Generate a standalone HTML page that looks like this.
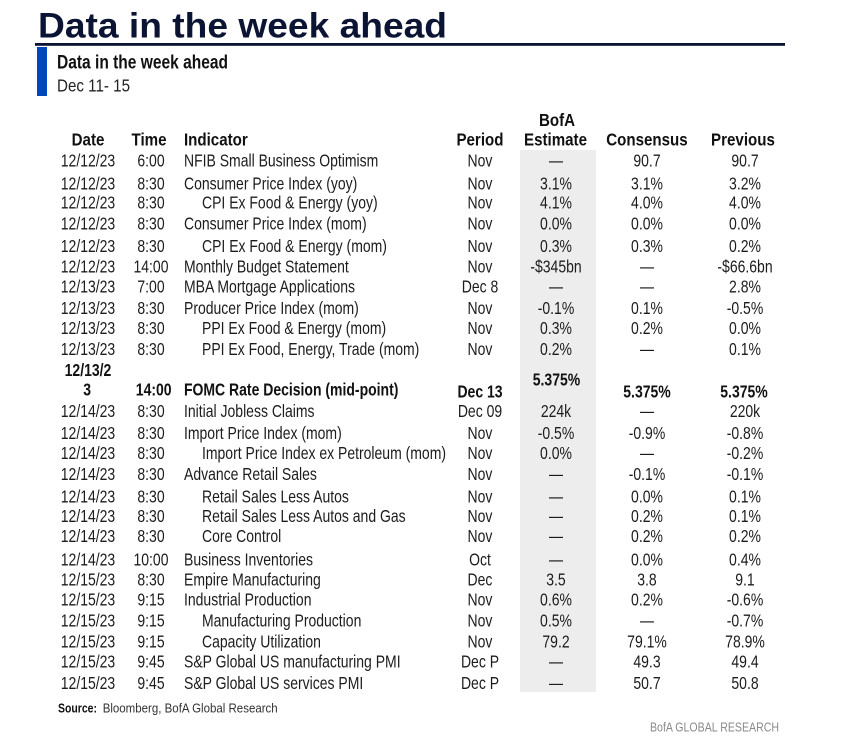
<!DOCTYPE html>
<html>
<head>
<meta charset="utf-8">
<style>
html,body{margin:0;padding:0;background:#fff;}
svg{display:block;}
text{font-family:"Liberation Sans",Arial,sans-serif;fill:#1c1c1c;}
.d text{font-size:17.5px;}
.c{text-anchor:middle;}
.b{font-weight:bold;fill:#111;}
.h text{font-size:18px;font-weight:bold;fill:#111;text-anchor:middle;}
</style>
</head>
<body>
<svg width="848" height="752" viewBox="0 0 848 752" xmlns="http://www.w3.org/2000/svg">
<rect x="0" y="0" width="848" height="752" fill="#fff"/>
<!-- Title -->
<text x="38" y="37.5" font-size="35" font-weight="bold" style="fill:#0c1434" textLength="409" lengthAdjust="spacingAndGlyphs">Data in the week ahead</text>
<rect x="35" y="43" width="750" height="2.8" fill="#0c1434"/>
<!-- Blue bar + subtitle -->
<rect x="37" y="47" width="10" height="49" fill="#0047bb"/>
<text x="57" y="68.3" font-size="19" font-weight="bold" style="fill:#111" textLength="171" lengthAdjust="spacingAndGlyphs">Data in the week ahead</text>
<text x="57" y="91.7" font-size="17.5" style="fill:#222" textLength="73" lengthAdjust="spacingAndGlyphs">Dec 11- 15</text>
<!-- Grey shading -->
<rect x="520" y="150" width="76" height="542" fill="#ededed"/>
<!-- Header -->
<g class="h" transform="scale(0.84,1)">
<text x="663.1" y="126">BofA</text>
<text x="104.8" y="145.7">Date</text>
<text x="177.4" y="145.7">Time</text>
<text x="219" y="145.7" style="text-anchor:start">Indicator</text>
<text x="571.4" y="145.7">Period</text>
<text x="661.3" y="145.7">Estimate</text>
<text x="770.2" y="145.7">Consensus</text>
<text x="884.5" y="145.7">Previous</text>
</g>
<!-- Data -->
<g class="d" transform="scale(0.8,1)">
<!-- 1 -->
<text class="c" x="110" y="166.3">12/12/23</text><text class="c" x="188.75" y="166.3">6:00</text><text x="230" y="166.3">NFIB Small Business Optimism</text><text class="c" x="600" y="166.3">Nov</text><text class="c" x="695" y="166.3">—</text><text class="c" x="808.75" y="166.3">90.7</text><text class="c" x="931.25" y="166.3">90.7</text>
<!-- 2 -->
<text class="c" x="110" y="189.3">12/12/23</text><text class="c" x="188.75" y="189.3">8:30</text><text x="230" y="189.3">Consumer Price Index (yoy)</text><text class="c" x="600" y="189.3">Nov</text><text class="c" x="695" y="189.3">3.1%</text><text class="c" x="808.75" y="189.3">3.1%</text><text class="c" x="931.25" y="189.3">3.2%</text>
<!-- 3 -->
<text class="c" x="110" y="208.3">12/12/23</text><text class="c" x="188.75" y="208.3">8:30</text><text x="252.5" y="208.3">CPI Ex Food &amp; Energy (yoy)</text><text class="c" x="600" y="208.3">Nov</text><text class="c" x="695" y="208.3">4.1%</text><text class="c" x="808.75" y="208.3">4.0%</text><text class="c" x="931.25" y="208.3">4.0%</text>
<!-- 4 -->
<text class="c" x="110" y="229.3">12/12/23</text><text class="c" x="188.75" y="229.3">8:30</text><text x="230" y="229.3">Consumer Price Index (mom)</text><text class="c" x="600" y="229.3">Nov</text><text class="c" x="695" y="229.3">0.0%</text><text class="c" x="808.75" y="229.3">0.0%</text><text class="c" x="931.25" y="229.3">0.0%</text>
<!-- 5 -->
<text class="c" x="110" y="251.8">12/12/23</text><text class="c" x="188.75" y="251.8">8:30</text><text x="252.5" y="251.8">CPI Ex Food &amp; Energy (mom)</text><text class="c" x="600" y="251.8">Nov</text><text class="c" x="695" y="251.8">0.3%</text><text class="c" x="808.75" y="251.8">0.3%</text><text class="c" x="931.25" y="251.8">0.2%</text>
<!-- 6 -->
<text class="c" x="110" y="272.3">12/12/23</text><text class="c" x="188.75" y="272.3">14:00</text><text x="230" y="272.3">Monthly Budget Statement</text><text class="c" x="600" y="272.3">Nov</text><text class="c" x="695" y="272.3">-$345bn</text><text class="c" x="808.75" y="272.3">—</text><text class="c" x="931.25" y="272.3">-$66.6bn</text>
<!-- 7 -->
<text class="c" x="110" y="292.3">12/13/23</text><text class="c" x="188.75" y="292.3">7:00</text><text x="230" y="292.3">MBA Mortgage Applications</text><text class="c" x="600" y="292.3">Dec 8</text><text class="c" x="695" y="292.3">—</text><text class="c" x="808.75" y="292.3">—</text><text class="c" x="931.25" y="292.3">2.8%</text>
<!-- 8 -->
<text class="c" x="110" y="313.8">12/13/23</text><text class="c" x="188.75" y="313.8">8:30</text><text x="230" y="313.8">Producer Price Index (mom)</text><text class="c" x="600" y="313.8">Nov</text><text class="c" x="695" y="313.8">-0.1%</text><text class="c" x="808.75" y="313.8">0.1%</text><text class="c" x="931.25" y="313.8">-0.5%</text>
<!-- 9 -->
<text class="c" x="110" y="333.8">12/13/23</text><text class="c" x="188.75" y="333.8">8:30</text><text x="252.5" y="333.8">PPI Ex Food &amp; Energy (mom)</text><text class="c" x="600" y="333.8">Nov</text><text class="c" x="695" y="333.8">0.3%</text><text class="c" x="808.75" y="333.8">0.2%</text><text class="c" x="931.25" y="333.8">0.0%</text>
<!-- 10 -->
<text class="c" x="110" y="354.8">12/13/23</text><text class="c" x="188.75" y="354.8">8:30</text><text x="252.5" y="354.8">PPI Ex Food, Energy, Trade (mom)</text><text class="c" x="600" y="354.8">Nov</text><text class="c" x="695" y="354.8">0.2%</text><text class="c" x="808.75" y="354.8">—</text><text class="c" x="931.25" y="354.8">0.1%</text>
<!-- 11 FOMC -->
<text class="c b" x="110" y="375.8" font-size="18.5">12/13/2</text>
<text class="c b" x="109" y="395.3" font-size="18.5">3</text>
<text class="c b" x="192.1" y="395.3">14:00</text>
<text class="b" x="230" y="395.3">FOMC Rate Decision (mid-point)</text>
<text class="c b" x="600" y="397.3">Dec 13</text>
<text class="c b" x="695.6" y="385.3">5.375%</text>
<text class="c b" x="808.75" y="397.3">5.375%</text>
<text class="c b" x="930" y="397.3">5.375%</text>
<!-- 12 -->
<text class="c" x="110" y="416.8">12/14/23</text><text class="c" x="188.75" y="416.8">8:30</text><text x="230" y="416.8">Initial  Jobless Claims</text><text class="c" x="600" y="416.8">Dec 09</text><text class="c" x="695" y="416.8">224k</text><text class="c" x="808.75" y="416.8">—</text><text class="c" x="931.25" y="416.8">220k</text>
<!-- 13 -->
<text class="c" x="110" y="438.8">12/14/23</text><text class="c" x="188.75" y="438.8">8:30</text><text x="230" y="438.8">Import Price Index (mom)</text><text class="c" x="600" y="438.8">Nov</text><text class="c" x="695" y="438.8">-0.5%</text><text class="c" x="808.75" y="438.8">-0.9%</text><text class="c" x="931.25" y="438.8">-0.8%</text>
<!-- 14 -->
<text class="c" x="110" y="458.8">12/14/23</text><text class="c" x="188.75" y="458.8">8:30</text><text x="252.5" y="458.8">Import Price Index ex Petroleum (mom)</text><text class="c" x="600" y="458.8">Nov</text><text class="c" x="695" y="458.8">0.0%</text><text class="c" x="808.75" y="458.8">—</text><text class="c" x="931.25" y="458.8">-0.2%</text>
<!-- 15 -->
<text class="c" x="110" y="479.9">12/14/23</text><text class="c" x="188.75" y="479.9">8:30</text><text x="230" y="479.9">Advance Retail Sales</text><text class="c" x="600" y="479.9">Nov</text><text class="c" x="695" y="479.9">—</text><text class="c" x="808.75" y="479.9">-0.1%</text><text class="c" x="931.25" y="479.9">-0.1%</text>
<!-- 16 -->
<text class="c" x="110" y="502.3">12/14/23</text><text class="c" x="188.75" y="502.3">8:30</text><text x="252.5" y="502.3">Retail Sales Less Autos</text><text class="c" x="600" y="502.3">Nov</text><text class="c" x="695" y="502.3">—</text><text class="c" x="808.75" y="502.3">0.0%</text><text class="c" x="931.25" y="502.3">0.1%</text>
<!-- 17 -->
<text class="c" x="110" y="521.9">12/14/23</text><text class="c" x="188.75" y="521.9">8:30</text><text x="252.5" y="521.9">Retail Sales Less Autos and Gas</text><text class="c" x="600" y="521.9">Nov</text><text class="c" x="695" y="521.9">—</text><text class="c" x="808.75" y="521.9">0.2%</text><text class="c" x="931.25" y="521.9">0.1%</text>
<!-- 18 -->
<text class="c" x="110" y="541.9">12/14/23</text><text class="c" x="188.75" y="541.9">8:30</text><text x="252.5" y="541.9">Core Control</text><text class="c" x="600" y="541.9">Nov</text><text class="c" x="695" y="541.9">—</text><text class="c" x="808.75" y="541.9">0.2%</text><text class="c" x="931.25" y="541.9">0.2%</text>
<!-- 19 -->
<text class="c" x="110" y="565.3">12/14/23</text><text class="c" x="188.75" y="565.3">10:00</text><text x="230" y="565.3">Business Inventories</text><text class="c" x="600" y="565.3">Oct</text><text class="c" x="695" y="565.3">—</text><text class="c" x="808.75" y="565.3">0.0%</text><text class="c" x="931.25" y="565.3">0.4%</text>
<!-- 20 -->
<text class="c" x="110" y="585.3">12/15/23</text><text class="c" x="188.75" y="585.3">8:30</text><text x="230" y="585.3">Empire Manufacturing</text><text class="c" x="600" y="585.3">Dec</text><text class="c" x="695" y="585.3">3.5</text><text class="c" x="808.75" y="585.3">3.8</text><text class="c" x="931.25" y="585.3">9.1</text>
<!-- 21 -->
<text class="c" x="110" y="605.3">12/15/23</text><text class="c" x="188.75" y="605.3">9:15</text><text x="230" y="605.3">Industrial Production</text><text class="c" x="600" y="605.3">Nov</text><text class="c" x="695" y="605.3">0.6%</text><text class="c" x="808.75" y="605.3">0.2%</text><text class="c" x="931.25" y="605.3">-0.6%</text>
<!-- 22 -->
<text class="c" x="110" y="626.3">12/15/23</text><text class="c" x="188.75" y="626.3">9:15</text><text x="252.5" y="626.3">Manufacturing Production</text><text class="c" x="600" y="626.3">Nov</text><text class="c" x="695" y="626.3">0.5%</text><text class="c" x="808.75" y="626.3">—</text><text class="c" x="931.25" y="626.3">-0.7%</text>
<!-- 23 -->
<text class="c" x="110" y="647.3">12/15/23</text><text class="c" x="188.75" y="647.3">9:15</text><text x="252.5" y="647.3">Capacity Utilization</text><text class="c" x="600" y="647.3">Nov</text><text class="c" x="695" y="647.3">79.2</text><text class="c" x="808.75" y="647.3">79.1%</text><text class="c" x="931.25" y="647.3">78.9%</text>
<!-- 24 -->
<text class="c" x="110" y="667.3">12/15/23</text><text class="c" x="188.75" y="667.3">9:45</text><text x="230" y="667.3">S&amp;P Global US manufacturing PMI</text><text class="c" x="600" y="667.3">Dec P</text><text class="c" x="695" y="667.3">—</text><text class="c" x="808.75" y="667.3">49.3</text><text class="c" x="931.25" y="667.3">49.4</text>
<!-- 25 -->
<text class="c" x="110" y="688.8">12/15/23</text><text class="c" x="188.75" y="688.8">9:45</text><text x="230" y="688.8">S&amp;P Global US services PMI</text><text class="c" x="600" y="688.8">Dec P</text><text class="c" x="695" y="688.8">—</text><text class="c" x="808.75" y="688.8">50.7</text><text class="c" x="931.25" y="688.8">50.8</text>
</g>
<!-- Source -->
<text x="58" y="712.7" font-size="13" font-weight="bold" style="fill:#111" textLength="39" lengthAdjust="spacingAndGlyphs">Source:</text>
<text x="102.7" y="712.7" font-size="13" style="fill:#333" textLength="175" lengthAdjust="spacingAndGlyphs">Bloomberg, BofA Global Research</text>
<text x="650" y="731.7" font-size="12.5" style="fill:#8a8a8a" textLength="129" lengthAdjust="spacingAndGlyphs">BofA GLOBAL RESEARCH</text>
</svg>
</body>
</html>
